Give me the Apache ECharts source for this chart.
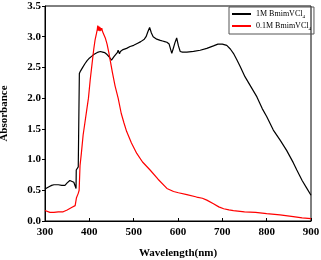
<!DOCTYPE html>
<html><head><meta charset="utf-8">
<script src="https://cdn.jsdelivr.net/npm/echarts@6/dist/echarts.min.js"></script>
<style>html,body{margin:0;padding:0;background:#fff}#c{width:321px;height:260px}</style>
</head><body><div id="c"></div>
<script>
var xTicks = [300, 400, 500, 600, 700, 800, 900];
var yTicks = [0.0, 0.5, 1.0, 1.5, 2.0, 2.5, 3.0, 3.5];
var seriesNames = ['1M BmimVCl4', '0.1M BmimVCl4'];
var wlBlack = [300,304,310,315,320,330,338,341,345,350,356,360,365,368,370,370.5,373,375,377,377.5,380,385,390,395,400,405,410,415,420,425,430,435,440,445,450,453,456,460,463,465,468,470,473,476,480,484,488,492,496,500,504,508,512,516,520,524,528,532,536,540,544,548,552,556,560,565,570,575,580,583,586,589,593,597,601,605,610,620,635,650,665,680,690,700,710,718,725,733,740,751,765,778,790,800,815,830,845,860,868,880,890,900];
var absBlack = [0.52,0.52,0.56,0.58,0.59,0.59,0.58,0.55,0.58,0.62,0.66,0.65,0.63,0.60,0.53,0.83,0.86,0.88,0.90,2.40,2.44,2.50,2.56,2.61,2.65,2.68,2.71,2.73,2.75,2.76,2.75,2.74,2.71,2.67,2.62,2.64,2.68,2.70,2.74,2.78,2.72,2.76,2.74,2.79,2.77,2.81,2.80,2.84,2.83,2.86,2.85,2.89,2.88,2.92,2.93,2.96,3.00,3.08,3.15,3.06,3.00,2.98,2.96,2.95,2.94,2.93,2.92,2.91,2.88,2.85,2.73,2.80,2.90,2.98,2.85,2.76,2.75,2.75,2.76,2.78,2.81,2.85,2.88,2.88,2.86,2.80,2.73,2.62,2.52,2.35,2.18,2.02,1.83,1.70,1.48,1.32,1.15,0.95,0.83,0.66,0.54,0.42];
var wlRed = [300,304,311,320,330,341,350,360,368,370,371,375,377,379,382,386,390,394,398,402,406,410,413,416,418,419,420,421,422,423,424,425,426,428,430,433,436,440,444,447,452,458,465,472,478,484,495,507,520,537,555,575,590,601,620,642,655,665,680,692,703,715,725,750,775,800,830,860,880,900];
var absRed = [0.17,0.16,0.14,0.14,0.15,0.15,0.18,0.22,0.25,0.25,0.38,0.45,0.50,0.90,1.10,1.40,1.60,1.80,2.00,2.30,2.55,2.80,2.95,3.05,3.12,3.18,3.10,3.17,3.10,3.16,3.09,3.15,3.10,3.14,3.08,3.05,2.98,2.88,2.74,2.62,2.42,2.20,2.00,1.75,1.60,1.46,1.27,1.10,0.96,0.83,0.68,0.53,0.48,0.46,0.43,0.39,0.37,0.34,0.28,0.23,0.20,0.18,0.17,0.15,0.14,0.12,0.10,0.07,0.05,0.04];

function pairs(xs, ys){ return xs.map(function(x,i){ return [x, ys[i]]; }); }
var font = 'Liberation Serif, Times New Roman, serif';
var chart = echarts.init(document.getElementById('c'), null, {renderer:'canvas'});
chart.setOption({
  animation: false,
  backgroundColor: '#fff',
  grid: {left: 45, right: 10, top: 6, bottom: 39, outerBoundsMode: 'none', containLabel: false, show: true, borderColor: '#000', borderWidth: 1, backgroundColor: 'transparent'},
  legend: {
    orient: 'vertical', left: 229, top: 7,
    data: seriesNames,
    itemStyle: {opacity: 0},
    borderColor: '#555', borderWidth: 1, borderRadius: 0,
    padding: [3, 3, 3, 2], itemGap: 3, itemWidth: 19, itemHeight: 8,
    formatter: function(n){ return '{a|' + n.slice(0, -1) + '}{s|' + n.slice(-1) + '}'; },
    textStyle: {fontFamily: font, fontSize: 8, color: '#000',
      rich: {a: {fontFamily: font, fontSize: 8, color: '#000'}, s: {fontFamily: font, fontSize: 5, color: '#000', padding: [5, 0, 0, 0]}}}
  },
  xAxis: {
    type: 'value', min: 300, max: 900, interval: 100,
    name: 'Wavelength(nm)', nameLocation: 'middle', nameGap: 27,
    nameTextStyle: {fontFamily: font, fontSize: 11, fontWeight: 'bold', color: '#000'},
    axisLine: {lineStyle: {color: '#000', width: 1}},
    axisTick: {inside: true, length: 3, lineStyle: {color: '#000'}},
    axisLabel: {fontFamily: font, fontSize: 11, fontWeight: 'bold', color: '#000', margin: 6,
      formatter: function(v){ return xTicks.indexOf(v) >= 0 ? String(v) : ''; }},
    splitLine: {show: false}
  },
  yAxis: {
    type: 'value', min: 0, max: 3.5, interval: 0.5,
    name: 'Absorbance', nameLocation: 'middle', nameGap: 35, nameRotate: 90,
    nameTextStyle: {fontFamily: font, fontSize: 11, fontWeight: 'bold', color: '#000'},
    axisLine: {show: true, lineStyle: {color: '#000', width: 1}},
    axisTick: {show: true, length: 3, lineStyle: {color: '#000'}},
    axisLabel: {fontFamily: font, fontSize: 11, fontWeight: 'bold', color: '#000', margin: 4,
      formatter: function(v){ return v.toFixed(1); }},
    splitLine: {show: false}
  },
  series: [
    {name: seriesNames[0], type: 'line', data: pairs(wlBlack, absBlack), symbol: 'none', lineStyle: {color: '#000', width: 1.2}, itemStyle: {color: '#000'}},
    {name: seriesNames[1], type: 'line', data: pairs(wlRed, absRed), symbol: 'none', lineStyle: {color: '#ff0000', width: 1.2}, itemStyle: {color: '#ff0000'}}
  ]
});
</script></body></html>
